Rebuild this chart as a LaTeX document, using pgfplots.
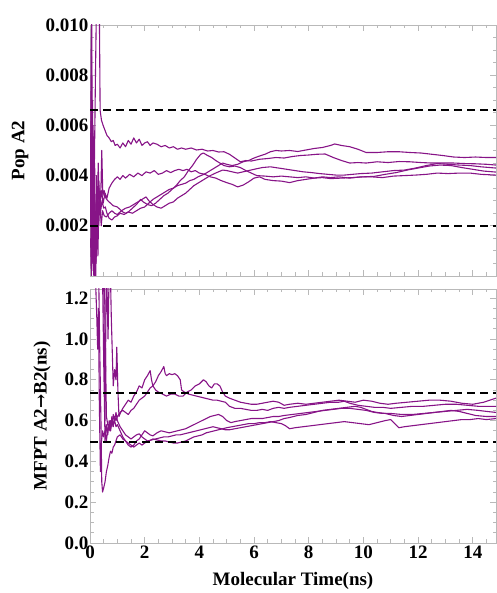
\documentclass[border=0pt]{standalone}
\usepackage{fontspec}
\setmainfont{Liberation Serif}
\newfontfamily\arrowfont{DejaVu Serif}
\usepackage{pgfplots}
\pgfplotsset{compat=1.18}

\definecolor{trajpurple}{RGB}{135,20,135}
\definecolor{framegray}{RGB}{185,185,185}

\pgfplotsset{
  panel/.style={
    scale only axis,
    width=406pt,
    xmin=0, xmax=14.85,
    axis line style={framegray, line width=0.8pt},
    tick style={framegray, line width=0.8pt},
    tick align=inside,
    major tick length=6pt,
    minor tick length=3.5pt,
    xtick={0,2,...,14},
    minor xtick={0.5,1,1.5,2.5,3,3.5,4.5,5,5.5,6.5,7,7.5,8.5,9,9.5,10.5,11,11.5,12.5,13,13.5,14.5},
    ticklabel style={font=\fontsize{19}{22}\selectfont\bfseries},
    yticklabel style={inner sep=1.5pt},
    xticklabel style={inner sep=1pt, yshift=-2pt},
    label style={font=\fontsize{19}{22}\selectfont\bfseries},
    clip=true,
  },
  traj/.style={trajpurple, line width=1.1pt, mark=none, line join=round},
  bound/.style={black, line width=2.2pt, dash pattern=on 8pt off 5pt, mark=none},
}

\begin{document}
\begin{tikzpicture}
\path[use as bounding box] (0pt,0pt) rectangle (496pt,593pt);

% ---------------- population of A2 ----------------
\begin{axis}[panel,
  at={(90pt,317pt)}, anchor=south west,
  height=251pt,
  ymin=0, ymax=0.010,
  scaled y ticks=false,
  ytick={0,0.002,0.004,0.006,0.008,0.010},
  yticklabels={,0.002,0.004,0.006,0.008,0.010},
  minor ytick={0.0005,0.001,0.0015,0.0025,0.003,0.0035,0.0045,0.005,0.0055,0.0065,0.007,0.0075,0.0085,0.009,0.0095},
  xticklabels={},
  ylabel={Pop A2},
  ylabel style={at={(axis description cs:-0.172,0.5)}, anchor=center},
]
\addplot[traj] coordinates {
(0.02,4.0e-3) (0.05,9.5e-3) (0.08,2.0e-3) (0.11,6.0e-3) (0.15,3.5e-3) (0.2,8.0e-3) (0.25,12e-3) (0.3,13e-3) (0.34,11e-3) (0.37,6.6e-3) (0.42,6.2e-3) (0.48,6.0e-3) (0.55,5.8e-3) (0.62,5.6e-3) (0.7,5.5e-3) (0.78,5.35e-3) (0.85,5.4e-3) (0.92,5.2e-3) (1.0,5.25e-3) (1.1,5.1e-3) (1.2,5.3e-3) (1.3,5.15e-3) (1.4,5.4e-3) (1.5,5.25e-3) (1.6,5.5e-3) (1.7,5.3e-3) (1.8,5.45e-3) (1.9,5.2e-3) (2.0,5.3e-3) (2.1,5.35e-3) (2.2,5.2e-3) (2.3,5.3e-3) (2.45,5.25e-3) (2.6,5.15e-3) (2.75,5.2e-3) (2.9,5.1e-3) (3.05,5.15e-3) (3.2,5.05e-3) (3.35,5.1e-3) (3.5,5.05e-3) (3.7,5.1e-3) (3.9,5.02e-3) (4.1,5.05e-3) (4.3,4.98e-3) (4.5,5.0e-3) (4.7,4.94e-3) (4.9,4.95e-3) (5.1,4.85e-3) (5.3,4.7e-3) (5.5,4.55e-3) (5.7,4.6e-3) (5.9,4.58e-3) (6.2,4.65e-3) (6.5,4.68e-3) (6.8,4.72e-3) (7.1,4.7e-3) (7.4,4.76e-3) (7.7,4.8e-3) (8.0,4.82e-3) (8.3,4.85e-3) (8.6,4.86e-3) (8.9,4.72e-3) (9.2,4.6e-3) (9.5,4.5e-3) (9.8,4.52e-3) (10.1,4.5e-3) (10.5,4.55e-3) (10.9,4.52e-3) (11.3,4.56e-3) (11.7,4.55e-3) (12.1,4.52e-3) (12.5,4.5e-3) (12.9,4.5e-3) (13.3,4.5e-3) (13.7,4.48e-3) (14.1,4.47e-3) (14.5,4.45e-3) (14.85,4.42e-3)
};
\addplot[traj] coordinates {
(0.02,1.5e-3) (0.05,0.3e-3) (0.08,5.0e-3) (0.12,0.2e-3) (0.16,3.0e-3) (0.2,1.0e-3) (0.24,4.0e-3) (0.28,2.5e-3) (0.32,3.8e-3) (0.36,2.8e-3) (0.42,3.4e-3) (0.48,2.9e-3) (0.55,3.3e-3) (0.62,3.1e-3) (0.7,3.5e-3) (0.8,3.7e-3) (0.9,3.85e-3) (1.0,3.95e-3) (1.1,3.85e-3) (1.2,4.0e-3) (1.3,3.9e-3) (1.45,4.05e-3) (1.6,3.95e-3) (1.75,4.1e-3) (1.9,4.0e-3) (2.05,4.15e-3) (2.2,4.1e-3) (2.35,4.2e-3) (2.5,4.05e-3) (2.65,4.1e-3) (2.8,4.2e-3) (2.95,4.12e-3) (3.1,4.2e-3) (3.25,4.25e-3) (3.4,4.2e-3) (3.55,4.25e-3) (3.7,4.15e-3) (3.85,4.2e-3) (4.0,4.1e-3) (4.2,4.05e-3) (4.4,3.95e-3) (4.6,3.9e-3) (4.8,3.8e-3) (5.0,3.72e-3) (5.2,3.65e-3) (5.4,3.55e-3) (5.6,3.62e-3) (5.8,3.75e-3) (6.0,3.9e-3) (6.2,3.95e-3) (6.4,3.85e-3) (6.7,3.8e-3) (7.0,3.78e-3) (7.3,3.72e-3) (7.6,3.8e-3) (7.9,3.85e-3) (8.2,3.9e-3) (8.5,3.95e-3) (8.8,3.92e-3) (9.1,3.95e-3) (9.5,3.9e-3) (9.9,3.95e-3) (10.3,3.95e-3) (10.7,3.92e-3) (11.1,3.98e-3) (11.5,4.0e-3) (11.9,4.02e-3) (12.3,4.05e-3) (12.7,4.1e-3) (13.1,4.08e-3) (13.5,4.1e-3) (13.9,4.1e-3) (14.3,4.05e-3) (14.85,4.02e-3)
};
\addplot[traj] coordinates {
(0.02,2.5e-3) (0.06,10.5e-3) (0.1,1.5e-3) (0.14,0.0) (0.18,3.0e-3) (0.22,0.5e-3) (0.26,2.0e-3) (0.3,4.5e-3) (0.35,2.5e-3) (0.4,3.5e-3) (0.43,5.0e-3) (0.47,3.2e-3) (0.52,3.4e-3) (0.58,3.1e-3) (0.65,3.0e-3) (0.75,2.9e-3) (0.85,2.8e-3) (1.0,2.75e-3) (1.1,2.65e-3) (1.2,2.55e-3) (1.3,2.5e-3) (1.4,2.55e-3) (1.55,2.7e-3) (1.7,2.85e-3) (1.85,3.05e-3) (1.95,2.95e-3) (2.1,2.85e-3) (2.25,2.8e-3) (2.4,2.9e-3) (2.55,3.05e-3) (2.7,3.2e-3) (2.85,3.3e-3) (3.0,3.45e-3) (3.15,3.6e-3) (3.3,3.8e-3) (3.45,3.95e-3) (3.6,4.2e-3) (3.75,4.4e-3) (3.9,4.65e-3) (4.05,4.85e-3) (4.15,4.9e-3) (4.3,4.8e-3) (4.45,4.72e-3) (4.6,4.6e-3) (4.75,4.5e-3) (4.9,4.4e-3) (5.1,4.35e-3) (5.3,4.38e-3) (5.5,4.32e-3) (5.7,4.2e-3) (5.9,4.1e-3) (6.1,4.0e-3) (6.4,3.98e-3) (6.7,3.95e-3) (7.0,3.98e-3) (7.3,3.95e-3) (7.6,3.92e-3) (7.9,3.95e-3) (8.2,3.9e-3) (8.5,3.92e-3) (8.8,3.88e-3) (9.2,3.9e-3) (9.6,3.92e-3) (10.0,3.95e-3) (10.4,3.97e-3) (10.8,4.05e-3) (11.2,4.12e-3) (11.6,4.22e-3) (12.0,4.3e-3) (12.4,4.38e-3) (12.8,4.42e-3) (13.2,4.4e-3) (13.6,4.32e-3) (14.0,4.25e-3) (14.4,4.18e-3) (14.85,4.14e-3)
};
\addplot[traj] coordinates {
(0.02,3.5e-3) (0.05,0.0) (0.09,7.0e-3) (0.13,1.0e-3) (0.17,4.5e-3) (0.21,0.0) (0.25,3.0e-3) (0.29,0.8e-3) (0.33,3.5e-3) (0.38,2.5e-3) (0.44,3.0e-3) (0.5,2.7e-3) (0.56,2.75e-3) (0.62,2.5e-3) (0.7,2.3e-3) (0.8,2.23e-3) (0.9,2.35e-3) (1.0,2.4e-3) (1.1,2.5e-3) (1.25,2.45e-3) (1.4,2.55e-3) (1.55,2.5e-3) (1.7,2.6e-3) (1.85,2.7e-3) (2.0,2.75e-3) (2.15,2.9e-3) (2.3,3.05e-3) (2.45,3.15e-3) (2.6,3.25e-3) (2.75,3.35e-3) (2.9,3.45e-3) (3.05,3.5e-3) (3.2,3.6e-3) (3.35,3.65e-3) (3.5,3.7e-3) (3.65,3.8e-3) (3.8,3.85e-3) (3.95,3.95e-3) (4.1,4.02e-3) (4.25,4.1e-3) (4.4,4.2e-3) (4.55,4.3e-3) (4.7,4.4e-3) (4.85,4.5e-3) (5.0,4.45e-3) (5.2,4.4e-3) (5.4,4.45e-3) (5.6,4.55e-3) (5.8,4.6e-3) (6.0,4.7e-3) (6.2,4.78e-3) (6.4,4.85e-3) (6.6,4.95e-3) (6.8,5.0e-3) (7.0,4.98e-3) (7.3,5.0e-3) (7.6,4.96e-3) (7.9,5.02e-3) (8.2,5.08e-3) (8.5,5.12e-3) (8.8,5.2e-3) (8.95,5.26e-3) (9.2,5.2e-3) (9.5,5.15e-3) (9.8,5.05e-3) (10.1,4.92e-3) (10.5,4.92e-3) (10.9,4.95e-3) (11.3,4.95e-3) (11.7,4.92e-3) (12.1,4.9e-3) (12.5,4.85e-3) (12.9,4.8e-3) (13.3,4.74e-3) (13.7,4.72e-3) (14.1,4.74e-3) (14.5,4.72e-3) (14.85,4.72e-3)
};
\addplot[traj] coordinates {
(0.02,2.0e-3) (0.05,6.0e-3) (0.08,0.5e-3) (0.12,3.5e-3) (0.16,0.0) (0.2,2.5e-3) (0.24,1.0e-3) (0.28,3.5e-3) (0.32,2.0e-3) (0.36,3.0e-3) (0.41,2.0e-3) (0.46,2.6e-3) (0.52,2.4e-3) (0.6,2.35e-3) (0.7,2.5e-3) (0.8,2.6e-3) (0.9,2.5e-3) (1.0,2.45e-3) (1.15,2.6e-3) (1.3,2.7e-3) (1.45,2.75e-3) (1.6,2.85e-3) (1.75,2.95e-3) (1.9,3.05e-3) (2.05,3.15e-3) (2.15,3.0e-3) (2.3,2.85e-3) (2.45,2.75e-3) (2.6,2.7e-3) (2.75,2.8e-3) (2.9,2.9e-3) (3.05,2.95e-3) (3.2,3.1e-3) (3.35,3.2e-3) (3.5,3.3e-3) (3.65,3.45e-3) (3.8,3.6e-3) (3.95,3.7e-3) (4.1,3.8e-3) (4.25,3.9e-3) (4.4,4.0e-3) (4.55,4.08e-3) (4.7,4.15e-3) (4.85,4.22e-3) (5.0,4.2e-3) (5.2,4.15e-3) (5.4,4.1e-3) (5.6,4.15e-3) (5.8,4.2e-3) (6.0,4.25e-3) (6.3,4.32e-3) (6.6,4.35e-3) (6.9,4.3e-3) (7.2,4.25e-3) (7.5,4.2e-3) (7.8,4.15e-3) (8.1,4.12e-3) (8.4,4.08e-3) (8.7,4.05e-3) (9.0,4.02e-3) (9.3,4.02e-3) (9.6,4.05e-3) (9.9,4.08e-3) (10.3,4.1e-3) (10.7,4.15e-3) (11.1,4.2e-3) (11.5,4.22e-3) (11.9,4.3e-3) (12.3,4.4e-3) (12.7,4.48e-3) (13.1,4.45e-3) (13.5,4.42e-3) (13.9,4.4e-3) (14.3,4.35e-3) (14.85,4.3e-3)
};
\addplot[bound] coordinates {(0,0.0066) (14.85,0.0066)};
\addplot[bound] coordinates {(0,0.0020) (14.85,0.0020)};
\end{axis}

% ---------------- mean first passage time A2 -> B2 ----------------
\begin{axis}[panel,
  at={(90pt,50pt)}, anchor=south west,
  height=254pt,
  ymin=0, ymax=1.245,
  ytick={0,0.2,0.4,0.6,0.8,1.0,1.2},
  yticklabels={0.0,0.2,0.4,0.6,0.8,1.0,1.2},
  minor ytick={0.05,0.1,0.15,0.25,0.3,0.35,0.45,0.5,0.55,0.65,0.7,0.75,0.85,0.9,0.95,1.05,1.1,1.15},
  xticklabels={0,2,4,6,8,10,12,14},
  xlabel={Molecular Time(ns)},
  xlabel style={at={(axis description cs:0.5,-0.15)}, anchor=center},
  ylabel={MFPT A2{\arrowfont\bfseries\fontsize{17}{20}\selectfont →}B2(ns)},
  ylabel style={at={(axis description cs:-0.118,0.5)}, anchor=center},
]
\addplot[traj] coordinates {
(0.35,1.6) (0.42,1.35) (0.5,1.3) (0.55,0.6) (0.6,1.4) (0.66,1.0) (0.72,1.5) (0.78,1.1) (0.85,0.77) (0.9,0.85) (0.95,0.8) (0.98,0.96) (1.02,0.75) (1.06,0.62) (1.12,0.64) (1.2,0.66) (1.3,0.68) (1.4,0.70) (1.5,0.69) (1.6,0.72) (1.7,0.74) (1.8,0.77) (1.9,0.76) (2.0,0.80) (2.1,0.82) (2.2,0.845) (2.25,0.8) (2.3,0.77) (2.4,0.75) (2.5,0.74) (2.65,0.73) (2.8,0.72) (2.95,0.73) (3.1,0.73) (3.25,0.72) (3.4,0.72) (3.55,0.74) (3.7,0.75) (3.85,0.77) (4.0,0.78) (4.15,0.80) (4.25,0.79) (4.35,0.77) (4.45,0.76) (4.55,0.78) (4.65,0.78) (4.75,0.77) (4.85,0.74) (4.95,0.72) (5.1,0.71) (5.3,0.70) (5.5,0.69) (5.7,0.685) (5.9,0.68) (6.1,0.68) (6.3,0.685) (6.5,0.69) (6.7,0.695) (6.9,0.69) (7.1,0.675) (7.3,0.68) (7.6,0.685) (7.9,0.68) (8.2,0.685) (8.5,0.69) (8.8,0.695) (9.1,0.70) (9.4,0.695) (9.7,0.69) (10.0,0.70) (10.3,0.695) (10.6,0.685) (10.9,0.68) (11.2,0.685) (11.6,0.69) (12.0,0.695) (12.4,0.70) (12.8,0.70) (13.2,0.695) (13.6,0.685) (14.0,0.68) (14.4,0.69) (14.85,0.71)
};
\addplot[traj] coordinates {
(0.15,1.6) (0.2,1.3) (0.25,1.1) (0.28,0.95) (0.31,1.15) (0.34,0.7) (0.38,0.35) (0.42,0.5) (0.46,0.55) (0.5,0.52) (0.55,0.55) (0.6,0.5) (0.65,0.56) (0.7,0.58) (0.75,0.55) (0.8,0.6) (0.85,0.57) (0.9,0.62) (0.95,0.6) (1.0,0.62) (1.1,0.64) (1.2,0.65) (1.3,0.64) (1.4,0.63) (1.5,0.65) (1.6,0.66) (1.7,0.68) (1.8,0.70) (1.9,0.71) (2.0,0.72) (2.1,0.74) (2.2,0.76) (2.3,0.77) (2.4,0.79) (2.5,0.82) (2.6,0.84) (2.7,0.865) (2.75,0.83) (2.8,0.82) (2.9,0.83) (3.0,0.825) (3.1,0.83) (3.2,0.82) (3.3,0.80) (3.35,0.75) (3.45,0.74) (3.6,0.73) (3.75,0.725) (3.9,0.72) (4.05,0.715) (4.2,0.71) (4.35,0.705) (4.5,0.70) (4.65,0.70) (4.8,0.695) (4.95,0.69) (5.1,0.67) (5.3,0.66) (5.5,0.66) (5.7,0.655) (5.9,0.65) (6.1,0.65) (6.3,0.655) (6.5,0.65) (6.7,0.66) (6.9,0.665) (7.1,0.66) (7.3,0.665) (7.6,0.67) (7.9,0.675) (8.2,0.68) (8.5,0.685) (8.8,0.69) (9.1,0.69) (9.3,0.695) (9.5,0.685) (9.8,0.675) (10.1,0.67) (10.4,0.665) (10.7,0.665) (11.0,0.66) (11.4,0.665) (11.8,0.67) (12.2,0.67) (12.6,0.675) (13.0,0.68) (13.4,0.68) (13.8,0.675) (14.2,0.67) (14.85,0.67)
};
\addplot[traj] coordinates {
(0.45,1.4) (0.5,0.9) (0.55,0.5) (0.6,0.58) (0.65,0.53) (0.7,0.6) (0.75,0.55) (0.8,0.62) (0.85,0.58) (0.9,0.6) (0.95,0.57) (1.0,0.58) (1.1,0.55) (1.2,0.52) (1.3,0.5) (1.4,0.48) (1.5,0.47) (1.6,0.48) (1.7,0.50) (1.8,0.51) (1.9,0.53) (2.0,0.55) (2.1,0.54) (2.2,0.53) (2.3,0.525) (2.45,0.54) (2.6,0.55) (2.75,0.545) (2.9,0.54) (3.05,0.545) (3.2,0.55) (3.35,0.555) (3.5,0.56) (3.65,0.57) (3.8,0.58) (3.95,0.59) (4.1,0.60) (4.25,0.61) (4.4,0.62) (4.55,0.625) (4.7,0.63) (4.85,0.62) (5.0,0.60) (5.15,0.59) (5.3,0.595) (5.5,0.60) (5.7,0.605) (5.9,0.61) (6.1,0.61) (6.3,0.61) (6.5,0.615) (6.7,0.62) (6.9,0.62) (7.1,0.625) (7.4,0.63) (7.7,0.635) (8.0,0.64) (8.3,0.645) (8.6,0.65) (8.9,0.655) (9.2,0.66) (9.5,0.66) (9.8,0.655) (10.1,0.65) (10.4,0.64) (10.7,0.635) (11.0,0.635) (11.4,0.63) (11.8,0.63) (12.2,0.635) (12.6,0.64) (13.0,0.645) (13.4,0.65) (13.8,0.655) (14.2,0.65) (14.5,0.645) (14.85,0.64)
};
\addplot[traj] coordinates {
(0.3,1.5) (0.35,1.0) (0.4,0.6) (0.43,0.3) (0.46,0.25) (0.5,0.27) (0.55,0.3) (0.6,0.35) (0.65,0.38) (0.7,0.42) (0.75,0.45) (0.8,0.44) (0.85,0.47) (0.9,0.48) (1.0,0.52) (1.1,0.53) (1.2,0.51) (1.3,0.50) (1.4,0.49) (1.5,0.48) (1.6,0.47) (1.7,0.48) (1.8,0.49) (1.9,0.48) (2.0,0.49) (2.15,0.50) (2.3,0.51) (2.45,0.505) (2.6,0.50) (2.75,0.50) (2.9,0.495) (3.05,0.49) (3.2,0.49) (3.35,0.495) (3.5,0.50) (3.65,0.51) (3.8,0.52) (3.95,0.525) (4.1,0.53) (4.25,0.54) (4.4,0.545) (4.55,0.55) (4.7,0.555) (4.85,0.56) (5.0,0.565) (5.2,0.57) (5.4,0.575) (5.6,0.58) (5.8,0.585) (6.0,0.585) (6.2,0.59) (6.4,0.59) (6.6,0.595) (6.8,0.59) (7.0,0.585) (7.15,0.575) (7.3,0.56) (7.5,0.565) (7.8,0.57) (8.1,0.575) (8.4,0.58) (8.7,0.585) (9.0,0.59) (9.3,0.595) (9.6,0.59) (9.9,0.585) (10.2,0.58) (10.5,0.59) (10.8,0.60) (11.0,0.605) (11.15,0.585) (11.3,0.565) (11.5,0.57) (11.8,0.575) (12.1,0.58) (12.4,0.585) (12.7,0.59) (13.0,0.595) (13.3,0.60) (13.6,0.605) (13.9,0.605) (14.2,0.61) (14.5,0.605) (14.85,0.61)
};
\addplot[traj] coordinates {
(0.5,1.5) (0.55,1.1) (0.6,0.62) (0.65,0.58) (0.7,0.55) (0.75,0.6) (0.8,0.57) (0.85,0.63) (0.9,0.6) (0.95,0.64) (1.0,0.6) (1.1,0.57) (1.2,0.55) (1.3,0.53) (1.4,0.52) (1.5,0.51) (1.6,0.52) (1.7,0.53) (1.8,0.535) (1.9,0.52) (2.0,0.51) (2.1,0.50) (2.25,0.505) (2.4,0.51) (2.55,0.515) (2.7,0.52) (2.85,0.52) (3.0,0.525) (3.15,0.53) (3.3,0.53) (3.45,0.535) (3.6,0.54) (3.75,0.545) (3.9,0.55) (4.05,0.555) (4.2,0.56) (4.35,0.565) (4.5,0.57) (4.65,0.565) (4.8,0.56) (4.95,0.555) (5.1,0.555) (5.3,0.56) (5.5,0.565) (5.7,0.57) (5.9,0.575) (6.1,0.58) (6.3,0.585) (6.5,0.59) (6.7,0.595) (6.9,0.60) (7.1,0.61) (7.3,0.615) (7.6,0.625) (7.9,0.63) (8.2,0.64) (8.5,0.65) (8.8,0.655) (9.1,0.66) (9.4,0.665) (9.7,0.67) (9.9,0.665) (10.1,0.655) (10.3,0.645) (10.5,0.64) (10.8,0.635) (11.1,0.625) (11.4,0.62) (11.7,0.625) (12.0,0.63) (12.3,0.635) (12.6,0.64) (12.9,0.645) (13.2,0.65) (13.5,0.645) (13.8,0.635) (14.1,0.625) (14.5,0.62) (14.85,0.62)
};
\addplot[bound] coordinates {(0,0.735) (14.85,0.735)};
\addplot[bound] coordinates {(0,0.495) (14.85,0.495)};
\end{axis}
\end{tikzpicture}
\end{document}
